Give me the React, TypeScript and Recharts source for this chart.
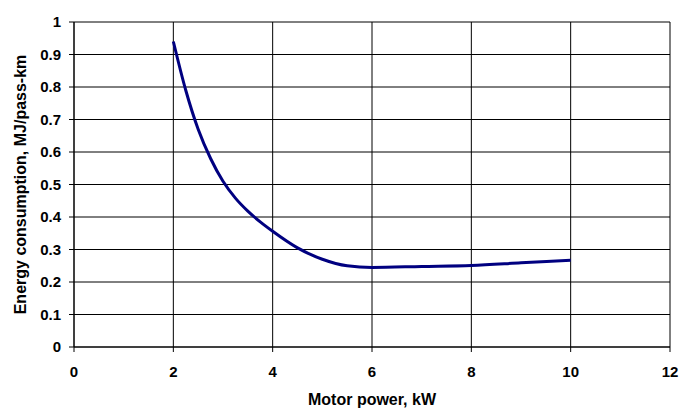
import { LineChart, Line, XAxis, YAxis, CartesianGrid, Label } from 'recharts'

const motorPower = [2, 2.25, 2.5, 2.75, 3, 3.25, 3.5, 3.75, 4, 4.5, 5, 5.5, 6, 7, 8, 9, 10]
const energyUse = [0.94, 0.79, 0.67, 0.58, 0.51, 0.458, 0.418, 0.385, 0.356, 0.305, 0.27, 0.25, 0.245, 0.248, 0.251, 0.259, 0.267]
const xTicks = [0, 2, 4, 6, 8, 10, 12]
const yTicks = [0, 0.1, 0.2, 0.3, 0.4, 0.5, 0.6, 0.7, 0.8, 0.9, 1]

const data = motorPower.map((p, i) => ({ power: p, energy: energyUse[i] }))

const font = 'Liberation Sans, Arial, sans-serif'
const tickStyle = { fontSize: 15, fontWeight: 700, fill: '#000', fontFamily: font }
const titleStyle = { ...tickStyle, fontSize: 16 }

export default function App() {
  return (
    <div style={{ position: 'absolute', left: 0, top: 0, background: '#fff' }}>
      <LineChart width={681} height={410} data={data} margin={{ top: 22, right: 11, left: 34, bottom: 33 }}>
        <CartesianGrid stroke="#000" strokeWidth={1} />
        <XAxis
          dataKey="power"
          type="number"
          domain={[0, 12]}
          ticks={xTicks}
          stroke="#000"
          tickSize={5}
          tickMargin={14}
          tick={tickStyle}
          height={30}
        >
          <Label value="Motor power, kW" position="bottom" offset={17} style={titleStyle} />
        </XAxis>
        <YAxis
          type="number"
          domain={[0, 1]}
          ticks={yTicks}
          stroke="#000"
          tickSize={5}
          tickMargin={8}
          tick={tickStyle}
          width={40}
          tickFormatter={(v: number) => String(v)}
        >
          <Label value="Energy consumption, MJ/pass-km" angle={-90} position="left" offset={14} style={{ ...titleStyle, textAnchor: 'middle' }} />
        </YAxis>
        <Line type="monotone" dataKey="energy" stroke="#000080" strokeWidth={3} dot={false} isAnimationActive={false} />
      </LineChart>
    </div>
  )
}
